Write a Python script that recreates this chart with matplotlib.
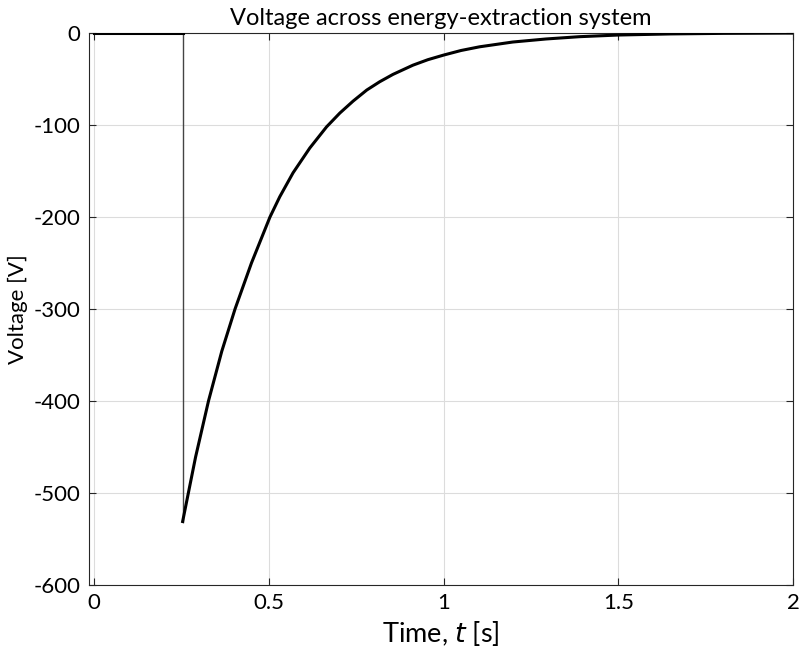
import matplotlib
matplotlib.use("Agg")
import matplotlib.pyplot as plt

# Werte
zeit = [0.0, 0.253, 0.253, 0.29, 0.327, 0.365, 0.403, 0.45, 0.503, 0.531,
        0.569, 0.617, 0.665, 0.703, 0.741, 0.78, 0.817, 0.855, 0.912, 0.955,
        1.0, 1.05, 1.103, 1.198, 1.293, 1.389, 1.5, 1.65, 1.8, 2.0]
spannung = [0, 0, -531, -461, -400, -346, -300, -250, -200, -178,
            -152, -125, -102, -87, -74, -62, -53, -45, -35, -29,
            -24, -19, -15, -9.8, -6.5, -4, -2.2, -1.0, -0.4, -0.1]

x_ticks = [0, 0.5, 1, 1.5, 2]
x_labels = ["0", "0.5", "1", "1.5", "2"]
y_ticks = [0, -100, -200, -300, -400, -500, -600]

plt.rcParams['font.family'] = ['Lato', 'DejaVu Sans']
plt.rcParams['axes.unicode_minus'] = False

fig = plt.figure(figsize=(8.01, 6.6), dpi=100)
ax = fig.add_axes([89 / 801, 1 - 585 / 660, (793 - 89) / 801, (585 - 33) / 660])

# Sprung als duenne Linie, Rest dick
ax.plot(zeit[1:3], spannung[1:3], color='#444444', lw=1.0, zorder=3)
ax.plot(zeit[:2], spannung[:2], color='black', lw=2.2, zorder=4)
ax.plot(zeit[2:], spannung[2:], color='black', lw=2.2, zorder=4,
        solid_joinstyle='round')

ax.set_xlim(-0.015, 2.0)
ax.set_ylim(-600, 0)
ax.set_xticks(x_ticks)
ax.set_xticklabels(x_labels)
ax.set_yticks(y_ticks)
ax.grid(True, color='#dcdcdc', lw=0.8)
ax.set_axisbelow(True)

for s in ax.spines.values():
    s.set_color('#262626')
    s.set_linewidth(0.8)
ax.tick_params(direction='in', length=5, width=0.8, color='#262626',
               top=True, right=True, labelsize=16, pad=6)

ax.set_title("Voltage across energy-extraction system", fontsize=17, pad=6)
ax.set_xlabel("Time, $\\mathit{t}$ [s]", fontsize=19.5, labelpad=4)
ax.set_ylabel("Voltage [V]", fontsize=16, labelpad=4)

fig.savefig("out.png", dpi=100)
